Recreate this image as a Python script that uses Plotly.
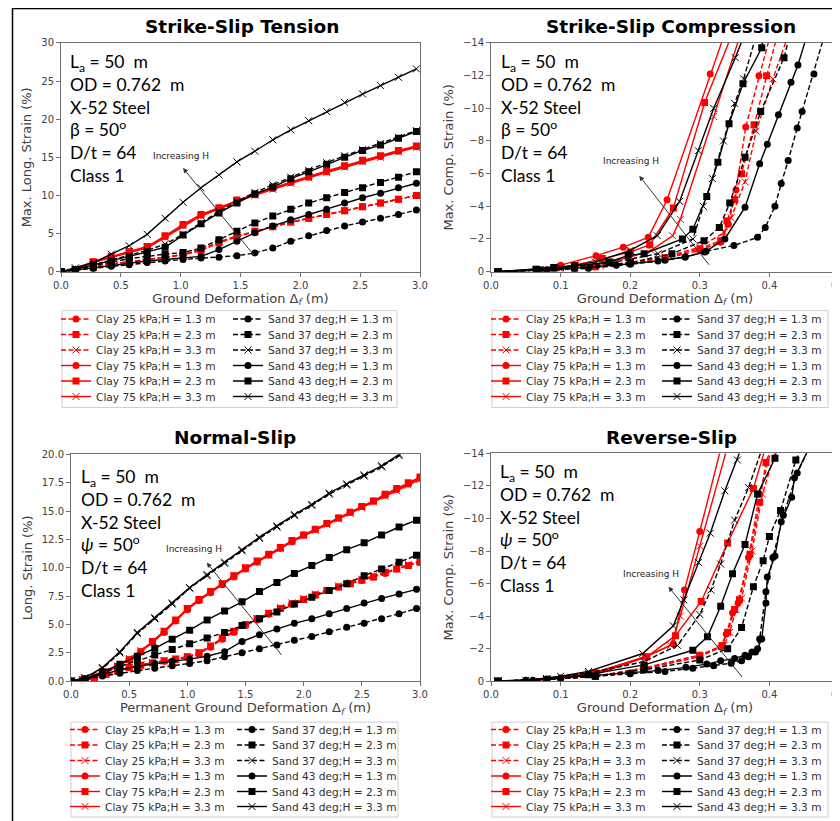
import plotly.graph_objects as go

# page is drawn with an 8px body margin: figure occupies screen pixels 8..840 x 8..821
OFF = 8
W, H = 840 - OFF, 821 - OFF

# ---------------- DATA ----------------
SERIES_NAMES = ["Clay 25 kPa;H = 1.3 m", "Clay 25 kPa;H = 2.3 m", "Clay 25 kPa;H = 3.3 m",
                "Clay 75 kPa;H = 1.3 m", "Clay 75 kPa;H = 2.3 m", "Clay 75 kPa;H = 3.3 m",
                "Sand 37 deg;H = 1.3 m", "Sand 37 deg;H = 2.3 m", "Sand 37 deg;H = 3.3 m",
                "Sand 43 deg;H = 1.3 m", "Sand 43 deg;H = 2.3 m", "Sand 43 deg;H = 3.3 m"]

# Strike-slip tension (x grid shared)
SST_X = [0, 0.12, 0.27, 0.42, 0.57, 0.72, 0.87, 1.02, 1.17, 1.32, 1.47, 1.62, 1.77, 1.92, 2.07, 2.22, 2.37, 2.52, 2.67, 2.82, 2.97]
SST_C25_13 = [0, 0.2, 0.6, 1.0, 1.3, 1.6, 1.9, 2.2, 2.8, 3.8, 4.6, 5.3, 5.9, 6.5, 7.0, 7.5, 8.0, 8.5, 9.0, 9.5, 10.0]
SST_C25_23 = [0, 0.2, 0.6, 1.0, 1.3, 1.6, 1.9, 2.2, 2.8, 3.8, 4.6, 5.3, 5.9, 6.5, 7.0, 7.5, 8.0, 8.5, 9.0, 9.5, 10.0]
SST_C25_33 = [0, 0.2, 0.6, 1.0, 1.3, 1.6, 1.9, 2.3, 2.9, 3.9, 4.7, 5.3, 5.9, 6.5, 7.0, 7.5, 8.0, 8.5, 9.0, 9.5, 10.0]
SST_C75_13 = [0, 0.3, 1.3, 2.0, 2.6, 3.2, 4.6, 6.1, 7.4, 8.3, 9.3, 10.1, 10.9, 11.7, 12.4, 13.1, 13.8, 14.5, 15.1, 15.8, 16.4]
SST_C75_23 = [0, 0.3, 1.3, 2.0, 2.6, 3.3, 4.7, 6.2, 7.5, 8.4, 9.4, 10.2, 11.0, 11.8, 12.5, 13.2, 13.9, 14.6, 15.2, 15.9, 16.5]
SST_C75_33 = [0, 0.3, 1.2, 1.9, 2.5, 3.1, 4.5, 6.0, 7.3, 8.2, 9.2, 10.0, 10.8, 11.6, 12.3, 13.0, 13.7, 14.4, 15.0, 15.7, 16.3]
SST_S37_13 = [0, 0.2, 0.4, 0.7, 0.9, 1.2, 1.4, 1.6, 1.8, 1.9, 2.1, 2.45, 3.1, 4.0, 4.7, 5.4, 6.0, 6.5, 7.0, 7.5, 8.1]
SST_S37_23 = [0, 0.3, 0.8, 1.3, 1.7, 2.0, 2.3, 2.5, 3.1, 4.2, 5.3, 6.4, 7.3, 8.2, 9.0, 9.7, 10.4, 11.0, 11.7, 12.4, 13.1]
SST_S37_33 = [0, 0.3, 0.9, 1.5, 2.1, 2.8, 3.6, 4.9, 6.4, 7.9, 9.2, 10.4, 11.4, 12.4, 13.3, 14.3, 15.2, 16.0, 16.8, 17.6, 18.5]
SST_S43_13 = [0, 0.2, 0.5, 0.8, 1.1, 1.4, 1.6, 1.8, 2.0, 2.9, 4.0, 5.1, 6.0, 6.8, 7.5, 8.2, 9.0, 9.7, 10.3, 11.0, 11.6]
SST_S43_23 = [0, 0.3, 0.9, 1.4, 2.0, 2.6, 3.2, 4.8, 6.3, 7.7, 9.0, 10.2, 11.1, 12.2, 13.1, 14.1, 15.0, 15.9, 16.6, 17.5, 18.4]
SST_S43_33 = [0, 0.5, 1.2, 2.3, 3.4, 4.9, 7.0, 9.1, 11.0, 12.7, 14.4, 15.8, 17.3, 18.6, 19.8, 21.0, 22.2, 23.3, 24.4, 25.5, 26.6]

# Strike-slip compression (each series has its own x)
SSC_C25_13_X = [0.01, 0.065, 0.09, 0.12, 0.15, 0.2, 0.25, 0.30, 0.33, 0.341, 0.352, 0.366, 0.385, 0.402]
SSC_C25_13_Y = [0, -0.1, -0.15, -0.2, -0.3, -0.5, -0.8, -1.3, -1.8, -2.9, -5.0, -8.85, -12.0, -14.6]
SSC_C25_23_X = [0.01, 0.065, 0.09, 0.12, 0.15, 0.2, 0.25, 0.3, 0.33, 0.339, 0.35, 0.36, 0.378, 0.396, 0.412]
SSC_C25_23_Y = [0, -0.1, -0.15, -0.2, -0.3, -0.55, -0.85, -1.4, -1.9, -3.1, -4.4, -6.0, -9.0, -12.0, -14.6]
SSC_C25_33_X = [0.01, 0.07, 0.1, 0.157, 0.2, 0.25, 0.3, 0.335, 0.345, 0.365, 0.381, 0.405, 0.428]
SSC_C25_33_Y = [0, -0.1, -0.15, -0.35, -0.55, -0.9, -1.5, -2.4, -3.3, -5.5, -8.6, -11.8, -14.6]
SSC_C75_13_X = [0.01, 0.065, 0.1, 0.151, 0.19, 0.226, 0.253, 0.315, 0.336]
SSC_C75_13_Y = [0, -0.15, -0.4, -0.98, -1.5, -2.1, -4.4, -12.1, -14.6]
SSC_C75_23_X = [0.01, 0.065, 0.1, 0.121, 0.16, 0.2, 0.228, 0.262, 0.307, 0.347]
SSC_C75_23_Y = [0, -0.1, -0.3, -0.4, -0.8, -1.2, -1.65, -3.9, -10.35, -14.6]
SSC_C75_33_X = [0.01, 0.07, 0.1, 0.16, 0.2, 0.23, 0.261, 0.272, 0.32, 0.359]
SSC_C75_33_Y = [0, -0.1, -0.25, -0.5, -0.9, -1.3, -2.2, -3.2, -9.5, -14.6]
SSC_S37_13_X = [0.01, 0.08, 0.14, 0.2, 0.25, 0.279, 0.309, 0.349, 0.383, 0.394, 0.408, 0.417, 0.427, 0.44, 0.447, 0.464, 0.48]
SSC_S37_13_Y = [0, -0.1, -0.2, -0.45, -0.7, -0.9, -1.25, -1.6, -2.1, -2.7, -4.0, -5.4, -6.8, -8.8, -9.8, -12.1, -14.6]
SSC_S37_23_X = [0.01, 0.07, 0.12, 0.2, 0.26, 0.306, 0.328, 0.343, 0.365, 0.3875, 0.421, 0.43]
SSC_S37_23_Y = [0, -0.1, -0.25, -0.55, -1.1, -1.9, -2.7, -4.2, -7.0, -9.8, -13.1, -14.6]
SSC_S37_33_X = [0.01, 0.07, 0.12, 0.18, 0.24, 0.29, 0.305, 0.318, 0.334, 0.35, 0.363, 0.382]
SSC_S37_33_Y = [0, -0.1, -0.3, -0.6, -1.1, -2.0, -4.0, -5.7, -8.0, -10.3, -11.8, -14.6]
SSC_S43_13_X = [0.01, 0.08, 0.12, 0.18, 0.24, 0.279, 0.307, 0.336, 0.365, 0.386, 0.397, 0.413, 0.431, 0.441, 0.455]
SSC_S43_13_Y = [0, -0.1, -0.2, -0.4, -0.65, -0.9, -1.2, -2.0, -3.95, -6.6, -7.8, -9.6, -11.6, -12.65, -14.6]
SSC_S43_23_X = [0.01, 0.065, 0.09, 0.12, 0.17, 0.197, 0.22, 0.275, 0.29, 0.31, 0.326, 0.342, 0.362, 0.389, 0.392]
SSC_S43_23_Y = [0, -0.15, -0.25, -0.35, -0.6, -1.0, -1.1, -2.0, -2.6, -4.6, -6.7, -9.05, -11.5, -13.7, -14.6]
SSC_S43_33_X = [0.01, 0.065, 0.1, 0.15, 0.2, 0.239, 0.271, 0.298, 0.32, 0.351, 0.365]
SSC_S43_33_Y = [0, -0.1, -0.25, -0.6, -1.3, -2.2, -4.3, -7.4, -10.0, -13.1, -14.6]

# Normal-slip
NS_X = [0, 0.12, 0.27, 0.42, 0.57, 0.72, 0.87, 1.02, 1.17, 1.32, 1.47, 1.62, 1.77, 1.92, 2.07, 2.22, 2.37, 2.52, 2.67, 2.82, 2.97]
NS_CLAY_X = [0, 0.1, 0.2, 0.3, 0.4, 0.5, 0.6, 0.7, 0.8, 0.9, 1.0, 1.1, 1.2, 1.3, 1.4, 1.5, 1.6, 1.7, 1.8, 1.9, 2.0,
             2.1, 2.2, 2.3, 2.4, 2.5, 2.6, 2.7, 2.8, 2.9, 3.0]
NS_C25_13 = [0, 0.1, 0.3, 0.6, 0.9, 1.2, 1.4, 1.6, 1.75, 1.9, 2.1, 2.4, 3.0, 3.7, 4.3, 4.9, 5.4, 5.9, 6.4, 6.8, 7.2,
             7.6, 8.0, 8.3, 8.6, 8.9, 9.2, 9.5, 9.9, 10.2, 10.5]
NS_C25_23 = [0, 0.1, 0.3, 0.6, 0.9, 1.2, 1.4, 1.6, 1.8, 1.95, 2.15, 2.5, 3.1, 3.8, 4.4, 5.0, 5.5, 6.0, 6.4, 6.8, 7.2,
             7.6, 8.0, 8.3, 8.6, 8.9, 9.2, 9.6, 9.9, 10.2, 10.5]
NS_C25_33 = [0, 0.1, 0.3, 0.6, 0.9, 1.2, 1.45, 1.65, 1.8, 1.95, 2.2, 2.5, 3.1, 3.8, 4.4, 5.0, 5.5, 6.0, 6.5, 6.9, 7.3,
             7.7, 8.0, 8.4, 8.7, 9.0, 9.3, 9.6, 9.9, 10.3, 10.6]
NS_C75_13 = [0, 0.1, 0.35, 0.8, 1.3, 1.9, 2.6, 3.4, 4.3, 5.3, 6.3, 7.1, 7.8, 8.5, 9.2, 9.9, 10.5, 11.1, 11.7, 12.3, 12.9,
             13.4, 13.9, 14.4, 14.9, 15.4, 15.9, 16.4, 16.9, 17.4, 17.9]
NS_C75_23 = [0, 0.1, 0.35, 0.8, 1.3, 1.9, 2.6, 3.5, 4.4, 5.4, 6.4, 7.2, 7.9, 8.6, 9.3, 10.0, 10.6, 11.2, 11.8, 12.4, 12.9,
             13.4, 13.9, 14.4, 14.9, 15.4, 15.9, 16.5, 17.0, 17.5, 18.0]
NS_C75_33 = [0, 0.1, 0.4, 0.85, 1.35, 2.0, 2.7, 3.5, 4.4, 5.4, 6.4, 7.2, 7.9, 8.6, 9.3, 9.9, 10.5, 11.1, 11.7, 12.3, 12.8,
             13.3, 13.8, 14.3, 14.8, 15.3, 15.8, 16.3, 16.8, 17.3, 17.8]
NS_S37_13 = [0, 0.15, 0.45, 0.7, 0.95, 1.15, 1.35, 1.55, 1.8, 2.15, 2.5, 2.85, 3.2, 3.6, 3.95, 4.35, 4.75, 5.1, 5.5, 5.95, 6.4]
NS_S37_23 = [0, 0.2, 0.7, 1.3, 1.8, 2.3, 2.8, 3.3, 3.8, 4.3, 4.9, 5.5, 6.1, 6.8, 7.4, 8.0, 8.6, 9.3, 9.9, 10.5, 11.1]
NS_S37_33 = [0, 0.3, 1.1, 2.5, 4.2, 5.5, 6.8, 8.2, 9.3, 10.4, 11.5, 12.6, 13.6, 14.6, 15.5, 16.5, 17.3, 18.1, 18.9, 19.9, 20.7]
NS_S43_13 = [0, 0.2, 0.6, 1.0, 1.3, 1.55, 1.75, 1.95, 2.2, 2.6, 3.5, 4.1, 4.6, 5.1, 5.5, 5.95, 6.4, 6.9, 7.3, 7.7, 8.1]
NS_S43_23 = [0, 0.2, 0.8, 1.5, 2.2, 2.9, 3.7, 4.5, 5.4, 6.2, 7.0, 7.9, 8.7, 9.5, 10.2, 10.9, 11.6, 12.2, 12.9, 13.6, 14.2]
NS_S43_33 = [0, 0.3, 1.2, 2.6, 4.3, 5.6, 6.9, 8.25, 9.4, 10.5, 11.6, 12.7, 13.7, 14.7, 15.6, 16.6, 17.4, 18.2, 19.0, 20.0, 20.8]

# Reverse-slip
RS_C25_13_X = [0.01, 0.08, 0.15, 0.22, 0.30, 0.33, 0.338, 0.347, 0.355, 0.37, 0.386, 0.405]
RS_C25_13_Y = [0, -0.1, -0.3, -0.8, -1.6, -2.1, -2.9, -4.2, -4.8, -7.6, -11.5, -14.6]
RS_C25_23_X = [0.01, 0.08, 0.15, 0.22, 0.30, 0.332, 0.34, 0.35, 0.357, 0.372, 0.386, 0.395, 0.405]
RS_C25_23_Y = [0, -0.1, -0.3, -0.8, -1.6, -2.2, -3.0, -4.4, -5.0, -7.8, -11.0, -13.45, -14.6]
RS_C25_33_X = [0.01, 0.08, 0.15, 0.22, 0.30, 0.335, 0.343, 0.352, 0.36, 0.375, 0.39, 0.412]
RS_C25_33_Y = [0, -0.1, -0.3, -0.75, -1.5, -2.2, -3.0, -4.4, -5.1, -8.0, -11.5, -14.6]
RS_C75_13_X = [0.01, 0.08, 0.15, 0.222, 0.262, 0.278, 0.30, 0.332]
RS_C75_13_Y = [0, -0.15, -0.55, -1.5, -2.3, -5.6, -9.2, -14.6]
RS_C75_23_X = [0.01, 0.08, 0.15, 0.224, 0.265, 0.302, 0.34, 0.377, 0.396]
RS_C75_23_Y = [0, -0.1, -0.4, -1.5, -2.8, -4.9, -8.5, -11.85, -14.6]
RS_C75_33_X = [0.01, 0.08, 0.15, 0.222, 0.258, 0.272, 0.30, 0.341]
RS_C75_33_Y = [0, -0.15, -0.5, -1.5, -2.2, -4.0, -8.3, -14.6]
RS_S37_13_X = [0.01, 0.06, 0.1, 0.15, 0.2, 0.25, 0.29, 0.32, 0.345, 0.36, 0.37, 0.38, 0.386, 0.395, 0.405, 0.42, 0.44, 0.46]
RS_S37_13_Y = [0, -0.05, -0.15, -0.3, -0.45, -0.6, -0.8, -0.95, -1.1, -1.25, -1.5, -1.8, -2.6, -5.5, -7.6, -10.2, -12.8, -14.6]
RS_S37_23_X = [0.01, 0.08, 0.15, 0.22, 0.3, 0.34, 0.36, 0.377, 0.391, 0.40, 0.416, 0.438, 0.45]
RS_S37_23_Y = [0, -0.1, -0.3, -0.7, -1.3, -2.0, -3.3, -5.8, -7.4, -8.9, -10.5, -13.6, -14.6]
RS_S37_33_X = [0.01, 0.08, 0.14, 0.22, 0.268, 0.30, 0.316, 0.33, 0.35, 0.37, 0.392]
RS_S37_33_Y = [0, -0.15, -0.5, -1.2, -2.2, -4.1, -5.6, -7.2, -9.9, -11.9, -14.6]
RS_S43_13_X = [0.01, 0.05, 0.1, 0.15, 0.2, 0.24, 0.28, 0.31, 0.33, 0.35, 0.365, 0.375, 0.383, 0.389, 0.395, 0.397,
               0.408, 0.417, 0.432, 0.436, 0.46]
RS_S43_13_Y = [0, -0.05, -0.2, -0.35, -0.5, -0.65, -0.85, -1.05, -1.25, -1.4, -1.6, -1.8, -2.0, -2.6, -4.8, -6.4,
               -7.7, -9.8, -11.3, -12.5, -14.6]
RS_S43_23_X = [0.01, 0.08, 0.14, 0.22, 0.29, 0.311, 0.33, 0.347, 0.365, 0.383, 0.408, 0.412]
RS_S43_23_Y = [0, -0.1, -0.4, -1.0, -1.9, -2.73, -4.6, -6.6, -8.4, -11.5, -13.7, -14.6]
RS_S43_33_X = [0.01, 0.05, 0.1, 0.14, 0.218, 0.262, 0.277, 0.298, 0.315, 0.336, 0.354, 0.362]
RS_S43_33_Y = [0, -0.05, -0.3, -0.6, -1.7, -3.4, -5.0, -7.3, -9.1, -11.7, -13.6, -14.6]

PANEL_TITLES = ["Strike-Slip Tension", "Strike-Slip Compression", "Normal-Slip", "Reverse-Slip"]
Y_TITLES = ["Max. Long. Strain (%)", "Max. Comp. Strain (%)", "Long. Strain (%)", "Max. Comp. Strain (%)"]
X_TITLES = ["Ground Deformation Δ<sub><i>f</i></sub> (m)", "Ground Deformation Δ<sub><i>f</i></sub> (m)",
            "Permanent Ground Deformation Δ<sub><i>f</i></sub> (m)", "Ground Deformation Δ<sub><i>f</i></sub> (m)"]
NB = "\u00a0"
INFO_TEXT = [f"L<sub>a</sub> = 50{NB} m<br>OD = 0.762{NB} m<br>X-52 Steel<br>β = 50<sup>o</sup><br>D/t = 64<br>Class 1",
             f"L<sub>a</sub> = 50{NB} m<br>OD = 0.762{NB} m<br>X-52 Steel<br>β = 50<sup>o</sup><br>D/t = 64<br>Class 1",
             f"L<sub>a</sub> = 50{NB} m<br>OD = 0.762{NB} m<br>X-52 Steel<br><i>ψ</i> = 50<sup>o</sup><br>D/t = 64<br>Class 1",
             f"L<sub>a</sub> = 50{NB} m<br>OD = 0.762{NB} m<br>X-52 Steel<br><i>ψ</i> = 50<sup>o</sup><br>D/t = 64<br>Class 1"]
ARROW_TEXT = "Increasing H"
# arrow (head x, head y, tail x, tail y, text x, text y) in data units
ARROWS = [(1.02, 13.6, 1.62, 2.0, 1.0, 15.2),
          (0.213, -5.87, 0.315, -0.33, 0.201, -6.75),
          (1.167, 10.46, 1.82, 2.18, 1.06, 11.7),
          (0.255, -5.8, 0.3625, -0.17, 0.23, -6.58)]

panels = [
    [(SST_X, SST_C25_13), (SST_X, SST_C25_23), (SST_X, SST_C25_33),
     (SST_X, SST_C75_13), (SST_X, SST_C75_23), (SST_X, SST_C75_33),
     (SST_X, SST_S37_13), (SST_X, SST_S37_23), (SST_X, SST_S37_33),
     (SST_X, SST_S43_13), (SST_X, SST_S43_23), (SST_X, SST_S43_33)],
    [(SSC_C25_13_X, SSC_C25_13_Y), (SSC_C25_23_X, SSC_C25_23_Y), (SSC_C25_33_X, SSC_C25_33_Y),
     (SSC_C75_13_X, SSC_C75_13_Y), (SSC_C75_23_X, SSC_C75_23_Y), (SSC_C75_33_X, SSC_C75_33_Y),
     (SSC_S37_13_X, SSC_S37_13_Y), (SSC_S37_23_X, SSC_S37_23_Y), (SSC_S37_33_X, SSC_S37_33_Y),
     (SSC_S43_13_X, SSC_S43_13_Y), (SSC_S43_23_X, SSC_S43_23_Y), (SSC_S43_33_X, SSC_S43_33_Y)],
    [(NS_CLAY_X, NS_C25_13), (NS_CLAY_X, NS_C25_23), (NS_CLAY_X, NS_C25_33),
     (NS_CLAY_X, NS_C75_13), (NS_CLAY_X, NS_C75_23), (NS_CLAY_X, NS_C75_33),
     (NS_X, NS_S37_13), (NS_X, NS_S37_23), (NS_X, NS_S37_33),
     (NS_X, NS_S43_13), (NS_X, NS_S43_23), (NS_X, NS_S43_33)],
    [(RS_C25_13_X, RS_C25_13_Y), (RS_C25_23_X, RS_C25_23_Y), (RS_C25_33_X, RS_C25_33_Y),
     (RS_C75_13_X, RS_C75_13_Y), (RS_C75_23_X, RS_C75_23_Y), (RS_C75_33_X, RS_C75_33_Y),
     (RS_S37_13_X, RS_S37_13_Y), (RS_S37_23_X, RS_S37_23_Y), (RS_S37_33_X, RS_S37_33_Y),
     (RS_S43_13_X, RS_S43_13_Y), (RS_S43_23_X, RS_S43_23_Y), (RS_S43_33_X, RS_S43_33_Y)],
]

# ---------------- STYLE / LAYOUT ----------------
def fx(p):  # screen pixel -> paper fraction
    return (p - OFF) / W

def fy(p):
    return 1 - (p - OFF) / H

# plot-area screen pixel boxes: (left, right, top, bottom)
BOX = [(61, 420, 43, 272), (491, 839, 43, 272), (71, 420, 455, 682), (491, 839, 454, 682)]
X_RANGES = [[0, 3], [0, 0.5], [0, 3], [0, 0.5]]
Y_RANGES = [[0, 30], [0, -14], [0, 20], [0, -14]]
X_DTICK = [0.5, 0.1, 0.5, 0.1]
Y_DTICK = [5, 2, 2.5, 2]
Y_FMT = ["d", "d", ".1f", "d"]
TITLE_POS = [(242, 27), (671, 27), (235, 438), (671, 438)]
INFO_POS = [(68, 49), (499, 49), (79, 465), (498, 460)]
LEG_MARK_X = [(76, 248), (506, 677), (85, 252), (506, 677)]
LEG_ROW_Y = [[319, 334.5, 350, 365.5, 381, 396.5], [319, 334.5, 350, 365.5, 381, 396.5],
             [729.5, 745, 760.5, 776, 791.5, 807], [729.5, 745, 760.5, 776, 791.5, 807]]
LEG_BOX = [(62, 311, 397, 408), (492, 311, 828, 408), (71, 723, 398, 818), (492, 723, 828, 818)]

RED, BLACK = "#ff0000", "#000000"
DASH = "5px,2.5px"
SYMBOLS = ["circle", "square", "x-thin"] * 4
COLORS = [RED] * 6 + [BLACK] * 6
DASHES = [DASH] * 3 + ["solid"] * 3 + [DASH] * 3 + ["solid"] * 3

AXIS_COL = "#707070"
TXT_COL = "#404040"
FONT = "DejaVu Sans"

fig = go.Figure()
layout = dict(width=W, height=H, margin=dict(l=0, r=0, t=0, b=0), template="none",
              paper_bgcolor="white", plot_bgcolor="white", font=dict(family=FONT, color=TXT_COL),
              annotations=[], shapes=[])

for k in range(4):
    xa = "x" if k == 0 else f"x{k+1}"
    ya = "y" if k == 0 else f"y{k+1}"
    l, r, t, b = BOX[k]
    axis_common = dict(showgrid=False, zeroline=False, showline=True, mirror=True, linecolor=AXIS_COL,
                       linewidth=1, ticks="outside", ticklen=4, tickcolor=AXIS_COL, tickwidth=1,
                       tickfont=dict(family=FONT, size=10, color=TXT_COL))
    layout["xaxis" if k == 0 else f"xaxis{k+1}"] = dict(
        axis_common, domain=[fx(l), min(1, fx(r))], range=X_RANGES[k], dtick=X_DTICK[k], tick0=0,
        tickformat=".1f", anchor=ya, ticklabeloverflow="allow",
        title=dict(text=X_TITLES[k], font=dict(family=FONT, size=13, color=TXT_COL), standoff=3))
    layout["yaxis" if k == 0 else f"yaxis{k+1}"] = dict(
        axis_common, domain=[fy(b), fy(t)], range=Y_RANGES[k], dtick=Y_DTICK[k], tick0=0,
        tickformat=Y_FMT[k], anchor=xa,
        title=dict(text=Y_TITLES[k], font=dict(family=FONT, size=13, color=TXT_COL), standoff=6))

    for j, (xs, ys) in enumerate(panels[k]):
        n = k * 12 + j + 1
        leg = "legend" if n == 1 else f"legend{n}"
        sym = SYMBOLS[j]
        marker = dict(symbol=sym, size=7, color=COLORS[j])
        if sym == "x-thin":
            marker.update(size=7, line=dict(color=COLORS[j], width=1))
        fig.add_trace(go.Scatter(
            x=xs, y=ys, xaxis=xa, yaxis=ya, mode="lines+markers", name=SERIES_NAMES[j],
            line=dict(color=COLORS[j], width=1.4, dash=DASHES[j]), marker=marker,
            legend=leg, showlegend=True))
        col, row = j // 6, j % 6
        layout[leg] = dict(x=fx(LEG_MARK_X[k][col] - 20), y=fy(LEG_ROW_Y[k][row]), xanchor="left",
                           yanchor="middle", bgcolor="rgba(0,0,0,0)", borderwidth=0, itemwidth=30,
                           font=dict(family=FONT, size=10.6, color="#303030"))

    # legend frame
    x0, y0, x1, y1 = LEG_BOX[k]
    layout["shapes"].append(dict(type="rect", xref="paper", yref="paper", x0=fx(x0), x1=fx(x1),
                                 y0=fy(y1), y1=fy(y0), line=dict(color="#d0d0d0", width=1),
                                 fillcolor="rgba(0,0,0,0)", layer="below"))
    # panel title
    tx, ty = TITLE_POS[k]
    layout["annotations"].append(dict(text="<b>" + PANEL_TITLES[k] + "</b>", xref="paper", yref="paper",
                                      x=fx(tx), y=fy(ty), xanchor="center", yanchor="middle",
                                      showarrow=False, font=dict(family=FONT, size=18.5, color="#000")))
    # info text
    ix, iy = INFO_POS[k]
    layout["annotations"].append(dict(text=INFO_TEXT[k], xref="paper", yref="paper", x=fx(ix), y=fy(iy),
                                      xanchor="left", yanchor="top", align="left", showarrow=False,
                                      font=dict(family="Lato", size=17.5, color="#000")))
    # arrow
    hx, hy, tx_, ty_, lx, ly = ARROWS[k]
    layout["annotations"].append(dict(text="", xref=xa, yref=ya, axref=xa, ayref=ya, x=hx, y=hy,
                                      ax=tx_, ay=ty_, showarrow=True, arrowhead=2, arrowsize=1,
                                      arrowwidth=1, arrowcolor="#333"))
    layout["annotations"].append(dict(text=ARROW_TEXT, xref=xa, yref=ya, x=lx, y=ly, showarrow=False,
                                      xanchor="center", yanchor="middle",
                                      font=dict(family=FONT, size=9, color="#222")))

# outer frame
layout["shapes"].append(dict(type="line", xref="paper", yref="paper", x0=fx(12), x1=fx(841),
                             y0=fy(8.5), y1=fy(8.5), line=dict(color="#000", width=1.5)))
layout["shapes"].append(dict(type="line", xref="paper", yref="paper", x0=fx(12.5), x1=fx(12.5),
                             y0=fy(8), y1=fy(822), line=dict(color="#000", width=1.5)))

fig.update_layout(**layout)
fig.write_html("out.html")
